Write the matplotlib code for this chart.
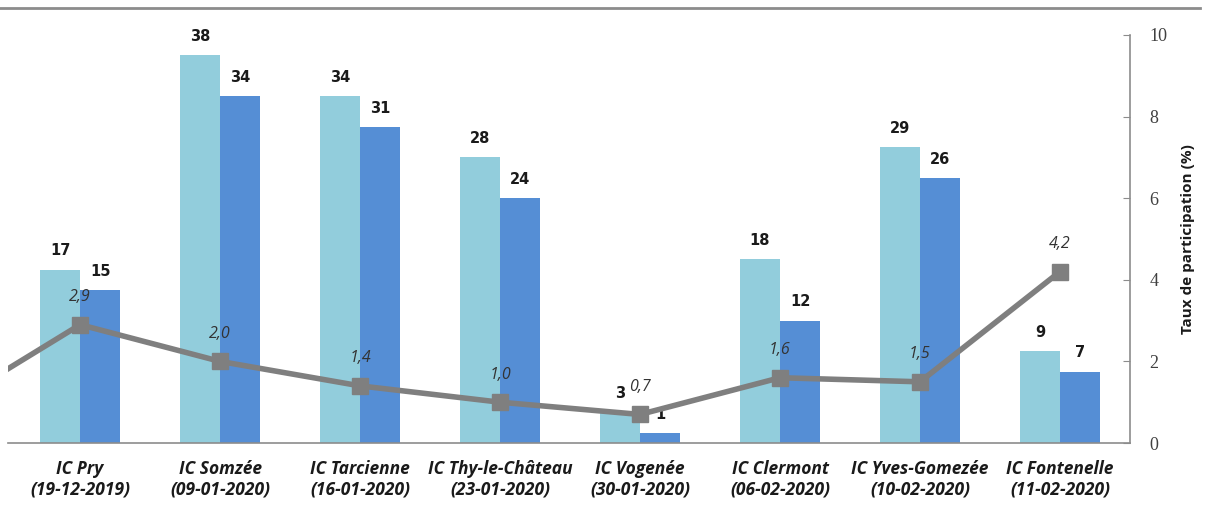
import matplotlib
matplotlib.use("Agg")
import matplotlib.pyplot as plt
import numpy as np

categories = ["IC Pry\n(19-12-2019)", "IC Somzée\n(09-01-2020)", "IC Tarcienne\n(16-01-2020)",
              "IC Thy-le-Château\n(23-01-2020)", "IC Vogenée\n(30-01-2020)", "IC Clermont\n(06-02-2020)",
              "IC Yves-Gomezée\n(10-02-2020)", "IC Fontenelle\n(11-02-2020)"]
series_a = [17, 38, 34, 28, 3, 18, 29, 9]
series_b = [15, 34, 31, 24, 1, 12, 26, 7]
rate = [2.9, 2.0, 1.4, 1.0, 0.7, 1.6, 1.5, 4.2]
prev_rate = 0.8  # point preceding the visible range (line enters from left edge)
rate_labels = ["2,9", "2,0", "1,4", "1,0", "0,7", "1,6", "1,5", "4,2"]
right_ticks = [0, 2, 4, 6, 8, 10]

W, H = 1205, 507
fig = plt.figure(figsize=(W / 100, H / 100), dpi=100)
left, right, bottom, top = 8, 1130, 443, 35
ax = fig.add_axes([left / W, 1 - bottom / H, (right - left) / W, (bottom - top) / H])

x = np.arange(len(categories))
bw = 0.286
c_light = "#92CDDC"
c_dark = "#558ED5"
ax.bar(x - bw / 2, series_a, bw, color=c_light, zorder=2)
ax.bar(x + bw / 2, series_b, bw, color=c_dark, zorder=2)
for xi, v in zip(x, series_a):
    ax.annotate(str(v), (xi - bw / 2, v), xytext=(0, 8), textcoords="offset points",
                ha="center", va="bottom", fontsize=10.5, fontweight="bold", color="#1a1a1a")
for xi, v in zip(x, series_b):
    ax.annotate(str(v), (xi + bw / 2, v), xytext=(0, 8), textcoords="offset points",
                ha="center", va="bottom", fontsize=10.5, fontweight="bold", color="#1a1a1a")

ax.set_ylim(0, 40)
ax.set_xlim(-0.515, 7.5)
ax.set_yticks([])
for s in ["left", "top", "right"]:
    ax.spines[s].set_visible(False)
ax.spines["bottom"].set_color("#8c8c8c")
ax.spines["bottom"].set_linewidth(1.2)
ax.set_xticks(x)
ax.set_xticklabels(categories, fontsize=12.5, fontstyle="italic", fontweight="bold",
                   family=["Open Sans", "DejaVu Sans"], color="#1a1a1a", linespacing=1.2)
ax.tick_params(axis="x", length=0, pad=12)

ax2 = ax.twinx()
ax2.set_ylim(0, 10)
lx = np.concatenate([[x[0] - 1], x])
ly = [prev_rate] + rate
ax2.plot(lx, ly, color="#7f7f7f", lw=4, marker="s", markersize=11,
         markevery=list(range(1, len(lx))), zorder=3, clip_on=True)
for xi, v, lab in zip(x, rate, rate_labels):
    ax2.annotate(lab, (xi, v), xytext=(0, 14), textcoords="offset points",
                 ha="center", va="bottom", fontsize=11.5, fontstyle="italic", color="#333333",
                 family=["Open Sans", "DejaVu Sans"])
ax2.set_yticks(right_ticks)
ax2.set_yticklabels([str(t) for t in right_ticks], family=["Liberation Serif", "DejaVu Serif"],
                    fontsize=13, color="#404040")
ax2.tick_params(axis="y", direction="in", length=5, color="#8c8c8c", pad=14)
for s in ["left", "top", "bottom"]:
    ax2.spines[s].set_visible(False)
ax2.spines["right"].set_color("#8c8c8c")
ax2.spines["right"].set_linewidth(1.2)
ax2.set_ylabel("Taux de participation (%)", fontsize=11, fontweight="bold",
               family=["Open Sans", "DejaVu Sans"], color="#1a1a1a", labelpad=10)
ax2.set_xlim(-0.515, 7.5)

fig.add_artist(plt.Line2D([0, 1200 / W], [1 - 8 / H, 1 - 8 / H], color="#8c8c8c", lw=2,
                          transform=fig.transFigure))

fig.savefig("out.png", dpi=100)
